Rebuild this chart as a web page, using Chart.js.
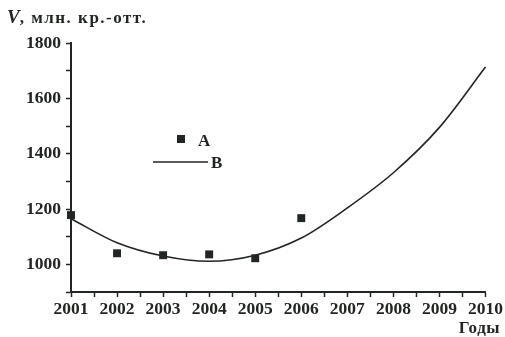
<!DOCTYPE html>
<html><head><meta charset="utf-8">
<script src="https://cdn.jsdelivr.net/npm/chart.js@4"></script>
<style>html,body{margin:0;padding:0;background:#fff;}canvas{display:block;}</style>
</head><body>
<canvas id="c" width="505" height="337"></canvas>
<script>
const years = [2001, 2002, 2003, 2004, 2005, 2006, 2007, 2008, 2009, 2010];
const yearsA = [2001, 2002, 2003, 2004, 2005, 2006];
const seriesA = [1178, 1040, 1033, 1036, 1022, 1167];
const seriesB = [1165, 1078, 1030, 1011, 1033, 1095, 1204, 1331, 1495, 1713];
const yLabels = [1000, 1200, 1400, 1600, 1800];
const yTitle = 'млн. кр.-отт.';
const xTitle = 'Годы';
const legendNames = ['A', 'B'];

const ink = '#222622';
const serif = '"Liberation Serif", "DejaVu Serif", serif';

const textPlugin = {
  id: 'texts',
  afterDraw(chart) {
    const ctx = chart.ctx;
    ctx.save();
    ctx.fillStyle = ink;
    ctx.textBaseline = 'alphabetic';
    ctx.textAlign = 'left';
    ctx.font = 'italic bold 19px ' + serif;
    ctx.fillText('V', 7, 23);
    const vw = ctx.measureText('V').width;
    ctx.font = 'bold 17px ' + serif;
    try { ctx.letterSpacing = '1.5px'; } catch (e) {}
    ctx.fillText(', ' + yTitle, 7 + vw, 23);
    try { ctx.letterSpacing = '0.5px'; } catch (e) {}
    ctx.textAlign = 'right';
    ctx.font = 'bold 17px ' + serif;
    ctx.fillText(xTitle, 500, 333);
    try { ctx.letterSpacing = '0px'; } catch (e) {}
    // legend
    ctx.textAlign = 'left';
    ctx.fillRect(177, 135, 8, 8);
    ctx.fillText(legendNames[0], 198, 146);
    ctx.strokeStyle = ink;
    ctx.lineWidth = 1.5;
    ctx.beginPath();
    ctx.moveTo(153, 162);
    ctx.lineTo(208, 162);
    ctx.stroke();
    ctx.fillText(legendNames[1], 211, 168);
    ctx.restore();
  }
};

new Chart(document.getElementById('c'), {
  type: 'scatter',
  data: {
    datasets: [
      {
        label: legendNames[0],
        data: yearsA.map((x, i) => ({x, y: seriesA[i]})),
        pointStyle: 'rect',
        pointRadius: 5.6,
        backgroundColor: ink,
        borderColor: ink,
        borderWidth: 0,
        clip: false
      },
      {
        label: legendNames[1],
        data: years.map((x, i) => ({x, y: seriesB[i]})),
        showLine: true,
        pointRadius: 0,
        borderColor: ink,
        borderWidth: 1.6,
        tension: 0.3,
        cubicInterpolationMode: 'monotone',
        clip: false
      }
    ]
  },
  options: {
    responsive: false,
    animation: false,
    devicePixelRatio: 1,
    layout: {padding: {top: 43, right: 18, left: 0, bottom: 0}},
    plugins: {legend: {display: false}, tooltip: {enabled: false}},
    scales: {
      x: {
        type: 'linear',
        min: 2001,
        max: 2010,
        afterFit(s) { s.height = 45; },
        ticks: {
          stepSize: 0.5,
          autoSkip: false,
          maxRotation: 0,
          padding: 2,
          color: ink,
          font: {family: serif, size: 17.5, weight: 'bold'},
          callback: v => Number.isInteger(v) ? String(v) : ''
        },
        grid: {drawOnChartArea: false, tickLength: 5, tickColor: ink, tickWidth: 1.5},
        border: {color: ink, width: 2}
      },
      y: {
        min: 900,
        max: 1800,
        afterFit(s) { s.width = 71; },
        ticks: {
          stepSize: 100,
          autoSkip: false,
          padding: 5,
          color: ink,
          font: {family: serif, size: 17.5, weight: 'bold'},
          callback: v => yLabels.includes(v) ? String(v) : ''
        },
        grid: {drawOnChartArea: false, tickLength: 5, tickColor: ink, tickWidth: 1.5},
        border: {color: ink, width: 2}
      }
    }
  },
  plugins: [textPlugin]
});
</script>
</body></html>
